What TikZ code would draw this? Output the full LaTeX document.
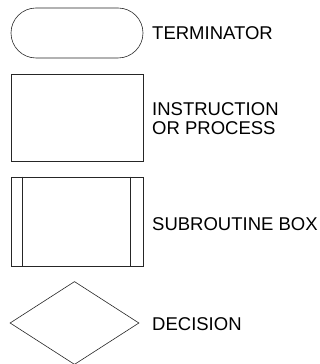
\documentclass[tikz,border=0pt]{standalone}
\usepackage{fontspec}
\setmainfont{Liberation Sans}
\usetikzlibrary{shapes.geometric}
\begin{document}
\begin{tikzpicture}[x=1pt,y=1pt,
  shapeline/.style={draw=black!85,line width=0.6pt,inner sep=0pt},
  lbl/.style={anchor=west,inner sep=0pt,align=left,font=\fontsize{18.5}{19}\selectfont}]
\useasboundingbox (0,0) rectangle (320,364);
% terminator
\node[shapeline,rectangle,rounded corners=25pt,minimum width=132pt,minimum height=50pt] (term) at (77,331) {};
\node[lbl] (termL) at (152,330.7) {TERMINATOR};
% process
\node[shapeline,rectangle,minimum width=132pt,minimum height=87pt] (proc) at (77,246.5) {};
\node[lbl] (procL) at (152,245) {INSTRUCTION\\OR PROCESS};
% subroutine
\node[shapeline,rectangle,minimum width=132pt,minimum height=89pt] (sub) at (77,142.5) {};
\draw[draw=black!85,line width=0.6pt] ([xshift=11.7pt]sub.north west) -- ([xshift=11.7pt]sub.south west);
\draw[draw=black!85,line width=0.6pt] ([xshift=-13pt]sub.north east) -- ([xshift=-13pt]sub.south east);
\node[lbl] (subL) at (152,140) {SUBROUTINE BOX};
% decision
\node[shapeline,diamond,minimum width=129pt,minimum height=83pt] (dec) at (74.5,41) {};
\node[lbl] (decL) at (152,39.5) {DECISION};
\end{tikzpicture}
\end{document}
